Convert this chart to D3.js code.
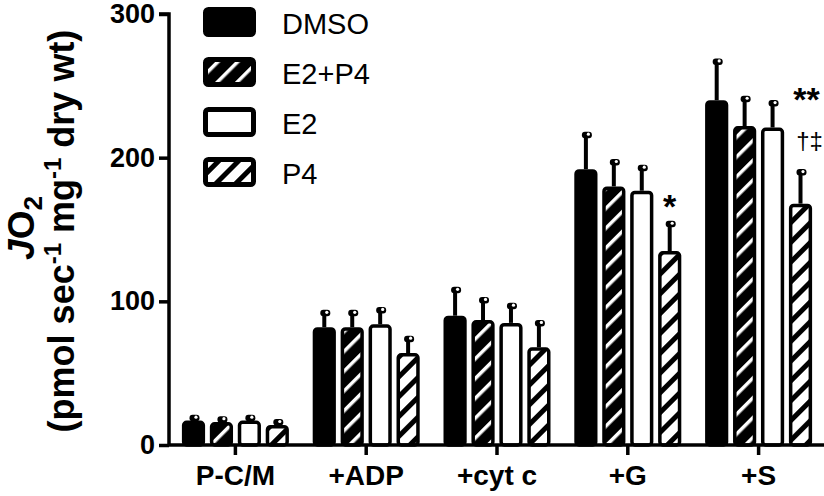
<!DOCTYPE html>
<html><head><meta charset="utf-8">
<script src="https://cdn.jsdelivr.net/npm/d3@7"></script>
<style>body{margin:0;background:#fff}svg{display:block}</style>
</head><body>
<svg id="c" width="824" height="496"></svg>
<script>
const categories = ["P-C/M", "+ADP", "+cyt c", "+G", "+S"];
const series = ["DMSO", "E2+P4", "E2", "P4"];
const dmso   = [17, 82, 90, 192, 240];
const e2p4   = [16, 82, 87, 180, 222];
const e2     = [17, 84, 85, 177, 221];
const p4     = [14, 64, 68, 135, 168];
const dmsoErr = [2, 10, 18, 24, 27];
const e2p4Err = [2, 10, 14, 17, 19];
const e2Err   = [2, 10, 12, 16, 17];
const p4Err   = [2, 10, 17, 19, 22];
const yTicks = [0, 100, 200, 300];
const marks = [
  {cat: "+G", ser: "P4", text: "*", kind: "star"},
  {cat: "+S", ser: "P4", text: "**", kind: "star2"},
  {cat: "+S", ser: "P4", text: "†‡", kind: "dag"}
];

const values = [dmso, e2p4, e2, p4];
const errs = [dmsoErr, e2p4Err, e2Err, p4Err];
const data = [];
categories.forEach((c, i) => series.forEach((s, j) => data.push({cat: c, ser: s, v: values[j][i], e: errs[j][i]})));

const svg = d3.select("#c");
const FONT = "'Liberation Sans', Arial, sans-serif";
const defs = svg.append("defs");
function hatch(id, bg, fg, w) {
  const p = defs.append("pattern").attr("id", id).attr("patternUnits", "userSpaceOnUse")
    .attr("width", 14).attr("height", 14).attr("patternTransform", "rotate(45)");
  p.append("rect").attr("width", 14).attr("height", 14).attr("fill", bg);
  p.append("rect").attr("x", 0).attr("width", w).attr("height", 14).attr("fill", fg);
}
hatch("hE2P4", "#000", "#fff", 3.5);
hatch("hP4", "#fff", "#000", 5);
const fills = {"DMSO": "#000", "E2+P4": "url(#hE2P4)", "E2": "#fff", "P4": "url(#hP4)"};

const x0 = 169, xEnd = 824;
const y = d3.scaleLinear().domain([0, 300]).range([445, 14]);
const x = d3.scaleBand().domain(categories).range([170, 824]);
const xi = d3.scaleBand().domain(series).range([-53.5, 53.5]).paddingInner(0.17);

// error bars
const eg = svg.append("g");
data.forEach(d => {
  const cx = x(d.cat) + x.bandwidth() / 2 + xi(d.ser) + xi.bandwidth() / 2;
  const yt = y(d.v + d.e);
  eg.append("line").attr("x1", cx).attr("x2", cx).attr("y1", y(d.v)).attr("y2", yt + 2)
    .attr("stroke", "#000").attr("stroke-width", 4);
  eg.append("rect").attr("x", cx - 4).attr("y", yt - 3).attr("width", 10).attr("height", 6.5)
    .attr("rx", 3).attr("fill", "#000");
  eg.append("circle").attr("cx", cx + 2.5).attr("cy", yt - 0.5).attr("r", 1.6).attr("fill", "#fff");
});

// bars
const bg = svg.append("g");
data.forEach(d => {
  const bx = x(d.cat) + x.bandwidth() / 2 + xi(d.ser);
  const bw = xi.bandwidth();
  const sw = 3.5;
  bg.append("rect").attr("x", bx + sw / 2).attr("y", y(d.v) + sw / 2)
    .attr("width", bw - sw).attr("height", Math.max(0, y(0) - y(d.v) - sw / 2))
    .attr("rx", 3).attr("fill", fills[d.ser]).attr("stroke", "#000").attr("stroke-width", sw);
});

// axes
const ya = svg.append("g").attr("transform", `translate(${x0},0)`)
  .call(d3.axisLeft(y).tickValues(yTicks).tickSize(10).tickPadding(4).tickFormat(d3.format("d")));
ya.select(".domain").attr("stroke-width", 3.5).attr("d", `M-10,${y(300)}H0V${y(0)}`);
ya.selectAll(".tick line").attr("stroke-width", 3.5);
ya.selectAll("text").attr("font-family", FONT).attr("font-weight", "bold").attr("font-size", 27).attr("fill", "#000");

const xa = svg.append("g").attr("transform", `translate(0,${y(0)})`)
  .call(d3.axisBottom(x).tickSize(10).tickPadding(10));
xa.select(".domain").attr("stroke-width", 3.5).attr("d", `M${x0},0H${xEnd}`);
xa.selectAll(".tick line").attr("stroke-width", 3.5);
xa.selectAll("text").attr("font-family", FONT).attr("font-weight", "bold").attr("font-size", 28).attr("fill", "#000");

// y title
const t1 = svg.append("text").attr("transform", "translate(34,228) rotate(-90)")
  .attr("text-anchor", "middle").attr("font-family", FONT).attr("font-weight", "bold").attr("font-size", 37);
t1.append("tspan").attr("font-style", "italic").text("J");
t1.append("tspan").text("O");
t1.append("tspan").attr("font-size", 26).attr("dy", 8).text("2");
const t2 = svg.append("text").attr("transform", "translate(74,231) rotate(-90)")
  .attr("text-anchor", "middle").attr("font-family", FONT).attr("font-weight", "bold").attr("font-size", 36);
t2.append("tspan").text("(pmol sec");
t2.append("tspan").attr("font-size", 24).attr("dy", -13).text("-1");
t2.append("tspan").attr("dy", 13).text(" mg");
t2.append("tspan").attr("font-size", 24).attr("dy", -13).text("-1");
t2.append("tspan").attr("dy", 13).text(" dry wt)");

// significance marks
marks.forEach(m => {
  const cx = x(m.cat) + x.bandwidth() / 2 + xi(m.ser) + xi.bandwidth() / 2;
  if (m.kind === "star") {
    svg.append("text").attr("x", cx).attr("y", 218).attr("text-anchor", "middle")
      .attr("font-family", FONT).attr("font-weight", "bold").attr("font-size", 34).text(m.text);
  } else if (m.kind === "star2") {
    svg.append("text").attr("x", cx + 6).attr("y", 111).attr("text-anchor", "middle")
      .attr("font-family", FONT).attr("font-weight", "bold").attr("font-size", 34).text(m.text);
  } else {
    svg.append("text").attr("x", cx + 9).attr("y", 149).attr("text-anchor", "middle")
      .attr("font-family", FONT).attr("font-size", 24).text(m.text);
  }
});

// legend
const lg = svg.append("g");
series.forEach((s, i) => {
  const ty = 7 + i * 50;
  lg.append("rect").attr("x", 205.5).attr("y", ty + 2.5).attr("width", 48).attr("height", 25)
    .attr("rx", 3).attr("fill", fills[s]).attr("stroke", "#000").attr("stroke-width", 5);
  lg.append("text").attr("x", 282).attr("y", ty + 27).attr("font-family", FONT)
    .attr("font-size", 29).text(s);
});
</script>
</body></html>
